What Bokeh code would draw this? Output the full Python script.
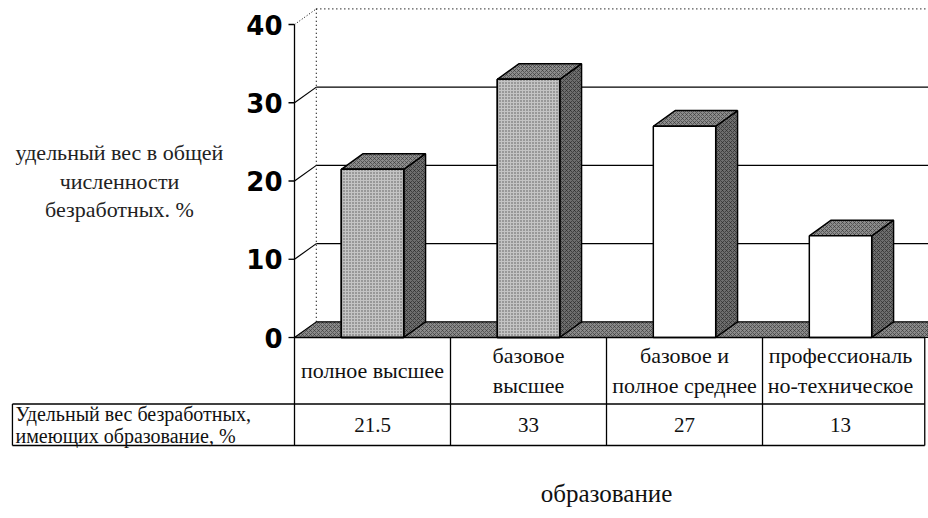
import numpy as np
from bokeh.plotting import figure
from bokeh.models import ColumnDataSource
from bokeh.core.properties import value
from bokeh.embed import file_html
from bokeh.resources import INLINE

# ---- data ----
categories_line1 = ["полное высшее", "базовое", "базовое и", "профессиональ"]
categories_line2 = ["", "высшее", "полное среднее", "но-техническое"]
values = [21.5, 33, 27, 13]
value_labels = ["21.5", "33", "27", "13"]
y_ticks = [0, 10, 20, 30, 40]
y_title = ["удельный вес в общей", "численности", "безработных. %"]
row_header = ["Удельный вес безработных,", "имеющих образование, %"]
x_title = "образование"

# ---- layout/style ----
W, H = 928, 518
x0, x1 = -1.8846, 4.064
y0, y1 = -23.13, 43.07
DX, DY = 0.14, 2.0          # 3D depth offset (data units)
BW = 0.40                    # bar width
ROW1 = -8.5                  # table row divider
ROW2 = -13.8                 # table bottom
HDR_L = -1.808               # left border of header cell
TBL_R = 4.04                 # right border of table
SERIF = value("Liberation Serif")

p = figure(width=W, height=H, x_range=(x0, x1), y_range=(y0, y1),
           output_backend="svg", toolbar_location=None,
           x_axis_type=None, y_axis_type=None, min_border=0)
p.grid.visible = False
p.outline_line_color = None
p.background_fill_color = "white"

n = len(values)
centers = np.arange(n) + 0.5
vals = np.array(values, dtype=float)

# ---- floor ----
p.patch([0, x1, x1, DX], [0, 0, DY, DY], fill_color="#8a8a8a",
        hatch_pattern="diagonal_cross", hatch_color="#333333", hatch_scale=4,
        hatch_weight=0.6, line_color="black", line_width=1.2)

# ---- back wall gridlines ----
grid_vals = np.array([t for t in y_ticks if 0 < t < max(y_ticks)], dtype=float)
p.segment(x0=np.full(len(grid_vals), DX), y0=grid_vals + DY,
          x1=np.full(len(grid_vals), x1), y1=grid_vals + DY,
          line_color="black", line_width=1.3)
p.segment(x0=np.zeros(len(grid_vals)), y0=grid_vals,
          x1=np.full(len(grid_vals), DX), y1=grid_vals + DY,
          line_color="black", line_width=1.2)
top = float(max(y_ticks))
p.segment(x0=[DX], y0=[top + DY], x1=[x1], y1=[top + DY],
          line_color="black", line_width=1.2, line_dash="1 3")
p.segment(x0=[0], y0=[top], x1=[DX], y1=[top + DY],
          line_color="black", line_width=1.0, line_dash="1 2")
p.segment(x0=[DX], y0=[DY], x1=[DX], y1=[top + DY],
          line_color="black", line_width=1.2, line_dash="1 3")

# ---- bars ----
front_fill = ["#c4c4c4", "#c4c4c4", "white", "white"]
front_hatch = [True, True, False, False]
side_xs, side_ys, top_xs, top_ys = [], [], [], []
for c, v in zip(centers, vals):
    l, r = c - BW / 2, c + BW / 2
    side_xs.append([r, r + DX, r + DX, r])
    side_ys.append([0, DY, v + DY, v])
    top_xs.append([l, r, r + DX, l + DX])
    top_ys.append([v, v, v + DY, v + DY])
p.patches(side_xs, side_ys, fill_color="#6e6e6e", hatch_pattern="diagonal_cross",
          hatch_color="#222222", hatch_scale=4, hatch_weight=0.6,
          line_color="black", line_width=1.5)
p.patches(top_xs, top_ys, fill_color="#8c8c8c", hatch_pattern="diagonal_cross",
          hatch_color="#333333", hatch_scale=4, hatch_weight=0.6,
          line_color="black", line_width=1.5)
bsrc = ColumnDataSource(dict(l=centers - BW / 2, r=centers + BW / 2, t=vals,
                             fc=front_fill))
p.quad(left="l", right="r", bottom=0, top="t", fill_color="fc", source=bsrc,
       line_color="black", line_width=1.5)
light = [i for i in range(n) if front_hatch[i]]
p.quad(left=centers[light] - BW / 2, right=centers[light] + BW / 2, bottom=0,
       top=vals[light], fill_alpha=0, hatch_pattern="dot", hatch_color="#555555",
       hatch_scale=3, hatch_weight=0.8, line_color="black", line_width=1.5)

# ---- y axis ----
yt = np.array(y_ticks, dtype=float)
p.segment(x0=[0], y0=[ROW2], x1=[0], y1=[top], line_color="black", line_width=1.3)
p.ray(x=np.zeros(len(yt)), y=yt, length=6, length_units="screen", angle=np.pi,
      line_color="black", line_width=1.3)
p.text(x=np.zeros(len(yt)), y=yt, text=[str(t) for t in y_ticks], x_offset=-12,
       text_align="right", text_baseline="middle", text_font=value("DejaVu Sans"),
       text_font_style="bold", text_font_size="26px", text_color="black")

# y title
ty = [23.7, 20.0, 16.4]
p.text(x=[-1.122] * 3, y=ty, text=y_title, text_align="center",
       text_baseline="middle", text_font=SERIF, text_font_size="22px",
       text_color="#222222")

# ---- data table ----
edges = [1.0, 2.0, 3.0, TBL_R]
p.segment(x0=[0, HDR_L, HDR_L], y0=[0, ROW1, ROW2], x1=[TBL_R] * 3,
          y1=[0, ROW1, ROW2], line_color="black", line_width=1.3)
p.segment(x0=edges, y0=np.zeros(n), x1=edges, y1=np.full(n, ROW2),
          line_color="black", line_width=1.3)
p.segment(x0=[HDR_L], y0=[ROW1], x1=[HDR_L], y1=[ROW2],
          line_color="black", line_width=1.3)

row1_mid = ROW1 / 2
single = [i for i in range(n) if categories_line2[i] == ""]
double = [i for i in range(n) if categories_line2[i] != ""]
p.text(x=centers[single], y=[row1_mid] * len(single),
       text=[categories_line1[i] for i in single], text_align="center",
       text_baseline="middle", text_font=SERIF, text_font_size="22px",
       text_color="#111111")
p.text(x=centers[double], y=[row1_mid] * len(double),
       text=[categories_line1[i] for i in double], y_offset=-15, text_align="center",
       text_baseline="middle", text_font=SERIF, text_font_size="22px",
       text_color="#111111")
p.text(x=centers[double], y=[row1_mid] * len(double),
       text=[categories_line2[i] for i in double], y_offset=15, text_align="center",
       text_baseline="middle", text_font=SERIF, text_font_size="22px",
       text_color="#111111")

row2_mid = (ROW1 + ROW2) / 2
p.text(x=centers, y=[row2_mid] * n, text=value_labels, text_align="center",
       text_baseline="middle", text_font=SERIF, text_font_size="21px",
       text_color="#111111")
p.text(x=[HDR_L] * 2, y=[row2_mid] * 2, text=row_header, x_offset=3,
       y_offset=[-11, 11], text_align="left", text_baseline="middle",
       text_font=SERIF, text_font_size="20px", text_color="#111111")

# x title
p.text(x=[n / 2], y=[-19.9], text=[x_title], text_align="center",
       text_baseline="middle", text_font=SERIF, text_font_size="25px",
       text_color="#111111")

open("out.html", "w").write(file_html(p, INLINE))
